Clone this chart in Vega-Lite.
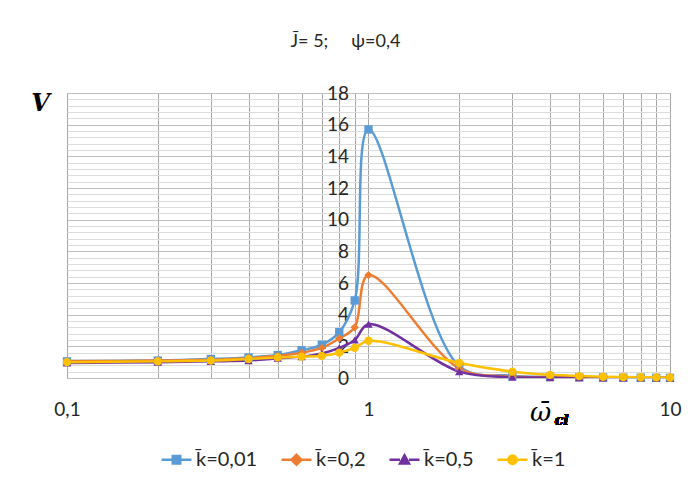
{
  "$schema": "https://vega.github.io/schema/vega-lite/v6.json",
  "width": 603,
  "height": 285,
  "autosize": {"type": "none"},
  "padding": {"left": 67, "top": 93, "right": 21, "bottom": 100},
  "background": "white",
  "config": {"view": {"stroke": "#bfbfbf", "strokeWidth": 1}, "font": "Lato"},
  "title": {"text": "J̄= 5;\u00a0\u00a0\u00a0\u00a0\u00a0ψ=0,4", "fontSize": 18, "fontWeight": "normal", "font": "Lato", "color": "#262626", "dx": -23, "offset": 33},
  "data": {"values": [
    {"w": 0.1, "k": "k̄=0,01", "v": 1.05}, {"w": 0.2, "k": "k̄=0,01", "v": 1.1}, {"w": 0.3, "k": "k̄=0,01", "v": 1.2}, {"w": 0.4, "k": "k̄=0,01", "v": 1.3}, {"w": 0.5, "k": "k̄=0,01", "v": 1.45}, {"w": 0.6, "k": "k̄=0,01", "v": 1.75}, {"w": 0.7, "k": "k̄=0,01", "v": 2.1}, {"w": 0.8, "k": "k̄=0,01", "v": 2.9}, {"w": 0.9, "k": "k̄=0,01", "v": 4.9}, {"w": 1, "k": "k̄=0,01", "v": 15.7}, {"w": 2, "k": "k̄=0,01", "v": 0.75}, {"w": 3, "k": "k̄=0,01", "v": 0.15}, {"w": 4, "k": "k̄=0,01", "v": 0.07}, {"w": 5, "k": "k̄=0,01", "v": 0.04}, {"w": 6, "k": "k̄=0,01", "v": 0.03}, {"w": 7, "k": "k̄=0,01", "v": 0.02}, {"w": 8, "k": "k̄=0,01", "v": 0.02}, {"w": 9, "k": "k̄=0,01", "v": 0.01}, {"w": 10, "k": "k̄=0,01", "v": 0.01},
    {"w": 0.1, "k": "k̄=0,2", "v": 1.05}, {"w": 0.2, "k": "k̄=0,2", "v": 1.1}, {"w": 0.3, "k": "k̄=0,2", "v": 1.15}, {"w": 0.4, "k": "k̄=0,2", "v": 1.25}, {"w": 0.5, "k": "k̄=0,2", "v": 1.4}, {"w": 0.6, "k": "k̄=0,2", "v": 1.6}, {"w": 0.7, "k": "k̄=0,2", "v": 1.9}, {"w": 0.8, "k": "k̄=0,2", "v": 2.5}, {"w": 0.9, "k": "k̄=0,2", "v": 3.2}, {"w": 1, "k": "k̄=0,2", "v": 6.5}, {"w": 2, "k": "k̄=0,2", "v": 0.6}, {"w": 3, "k": "k̄=0,2", "v": 0.1}, {"w": 4, "k": "k̄=0,2", "v": 0.05}, {"w": 5, "k": "k̄=0,2", "v": 0.03}, {"w": 6, "k": "k̄=0,2", "v": 0.02}, {"w": 7, "k": "k̄=0,2", "v": 0.02}, {"w": 8, "k": "k̄=0,2", "v": 0.01}, {"w": 9, "k": "k̄=0,2", "v": 0.01}, {"w": 10, "k": "k̄=0,2", "v": 0.01},
    {"w": 0.1, "k": "k̄=0,5", "v": 0.95}, {"w": 0.2, "k": "k̄=0,5", "v": 1.0}, {"w": 0.3, "k": "k̄=0,5", "v": 1.05}, {"w": 0.4, "k": "k̄=0,5", "v": 1.1}, {"w": 0.5, "k": "k̄=0,5", "v": 1.25}, {"w": 0.6, "k": "k̄=0,5", "v": 1.35}, {"w": 0.7, "k": "k̄=0,5", "v": 1.55}, {"w": 0.8, "k": "k̄=0,5", "v": 1.9}, {"w": 0.9, "k": "k̄=0,5", "v": 2.4}, {"w": 1, "k": "k̄=0,5", "v": 3.4}, {"w": 2, "k": "k̄=0,5", "v": 0.4}, {"w": 3, "k": "k̄=0,5", "v": 0.05}, {"w": 4, "k": "k̄=0,5", "v": 0.03}, {"w": 5, "k": "k̄=0,5", "v": 0.02}, {"w": 6, "k": "k̄=0,5", "v": 0.01}, {"w": 7, "k": "k̄=0,5", "v": 0.01}, {"w": 8, "k": "k̄=0,5", "v": 0.01}, {"w": 9, "k": "k̄=0,5", "v": 0.01}, {"w": 10, "k": "k̄=0,5", "v": 0.01},
    {"w": 0.1, "k": "k̄=1", "v": 1.0}, {"w": 0.2, "k": "k̄=1", "v": 1.05}, {"w": 0.3, "k": "k̄=1", "v": 1.1}, {"w": 0.4, "k": "k̄=1", "v": 1.2}, {"w": 0.5, "k": "k̄=1", "v": 1.3}, {"w": 0.6, "k": "k̄=1", "v": 1.35}, {"w": 0.7, "k": "k̄=1", "v": 1.4}, {"w": 0.8, "k": "k̄=1", "v": 1.6}, {"w": 0.9, "k": "k̄=1", "v": 1.9}, {"w": 1, "k": "k̄=1", "v": 2.35}, {"w": 2, "k": "k̄=1", "v": 0.95}, {"w": 3, "k": "k̄=1", "v": 0.4}, {"w": 4, "k": "k̄=1", "v": 0.2}, {"w": 5, "k": "k̄=1", "v": 0.12}, {"w": 6, "k": "k̄=1", "v": 0.08}, {"w": 7, "k": "k̄=1", "v": 0.06}, {"w": 8, "k": "k̄=1", "v": 0.05}, {"w": 9, "k": "k̄=1", "v": 0.04}, {"w": 10, "k": "k̄=1", "v": 0.03}
  ]},
  "encoding": {
    "x": {"field": "w", "type": "quantitative", "scale": {"type": "log", "domain": [0.1, 10]},
      "axis": {"values": [0.1, 0.2, 0.3, 0.4, 0.5, 0.6, 0.7, 0.8, 0.9, 1, 2, 3, 4, 5, 6, 7, 8, 9, 10],
        "grid": true, "gridColor": "#a6a6a6", "gridWidth": 1, "domain": false, "ticks": false,
        "labelExpr": "datum.value == 0.1 ? '0,1' : datum.value == 1 ? '1' : datum.value == 10 ? '10' : ''",
        "labelOverlap": false, "labelFlush": false, "labelBound": false, "labelPadding": 22,
        "labelFontSize": 19, "labelColor": "#262626", "labelFont": "Lato",
        "title": "ω̄", "titleX": 473, "titleY": 34, "titleAlign": "center", "titleBaseline": "middle",
        "titleFont": "DejaVu Serif", "titleFontStyle": "italic", "titleFontWeight": "normal", "titleFontSize": 26, "titleColor": "#000000"}}
  },
  "layer": [
    {
      "mark": {"type": "line", "interpolate": "catmull-rom", "strokeWidth": 2.5, "clip": true},
      "encoding": {
        "y": {"field": "v", "type": "quantitative", "scale": {"domain": [0, 18]},
          "axis": {"orient": "left", "values": [0, 0.4, 0.8, 1.2, 1.6, 2, 2.4, 2.8, 3.2, 3.6, 4, 4.4, 4.8, 5.2, 5.6, 6, 6.4, 6.8, 7.2, 7.6, 8, 8.4, 8.8, 9.2, 9.6, 10, 10.4, 10.8, 11.2, 11.6, 12, 12.4, 12.8, 13.2, 13.6, 14, 14.4, 14.8, 15.2, 15.6, 16, 16.4, 16.8, 17.2, 17.6, 18],
            "grid": true, "gridColor": {"condition": {"test": "datum.value % 2 === 0", "value": "#bfbfbf"}, "value": "#dcdcdc"},
            "labels": false, "ticks": false, "domain": false,
            "title": "V", "titleAngle": 0, "titleX": -27, "titleY": 10, "titleAlign": "center", "titleBaseline": "middle",
            "titleFont": "DejaVu Serif", "titleFontStyle": "italic", "titleFontWeight": "bold", "titleFontSize": 24, "titleColor": "#000000"}},
        "color": {"field": "k", "type": "nominal", "scale": {"domain": ["k̄=0,01", "k̄=0,2", "k̄=0,5", "k̄=1"], "range": ["#5b9bd5", "#ed7d31", "#7030a0", "#ffc000"]}, "legend": null}
      }
    },
    {
      "mark": {"type": "point", "filled": true, "opacity": 1, "size": 70},
      "encoding": {
        "y": {"field": "v", "type": "quantitative",
          "axis": {"orient": "left", "offset": -301.5, "values": [0, 2, 4, 6, 8, 10, 12, 14, 16, 18], "grid": false, "ticks": false, "domain": false,
            "labelPadding": 20, "labelFontSize": 19, "labelColor": "#262626", "labelFont": "Lato", "title": null}},
        "color": {"field": "k", "type": "nominal", "scale": {"domain": ["k̄=0,01", "k̄=0,2", "k̄=0,5", "k̄=1"], "range": ["#5b9bd5", "#ed7d31", "#7030a0", "#ffc000"]}, "legend": null},
        "shape": {"field": "k", "type": "nominal", "scale": {"domain": ["k̄=0,01", "k̄=0,2", "k̄=0,5", "k̄=1"], "range": ["square", "diamond", "triangle-up", "circle"]}, "legend": null}
      }
    },
    {
      "mark": {"type": "point", "filled": true, "size": 900, "clip": true, "strokeWidth": 2.5},
      "encoding": {
        "y": {"datum": -50, "axis": null},
        "color": {"field": "k", "type": "nominal", "scale": {"domain": ["k̄=0,01", "k̄=0,2", "k̄=0,5", "k̄=1"], "range": ["#5b9bd5", "#ed7d31", "#7030a0", "#ffc000"]},
          "legend": {"orient": "none", "legendX": 93, "legendY": 350, "direction": "horizontal", "columns": 4, "title": null,
            "labelFontSize": 20, "labelFont": "Lato", "labelColor": "#262626", "symbolSize": 900, "symbolStrokeWidth": 2.5, "columnPadding": 18, "labelOffset": 3, "symbolOpacity": 1}},
        "stroke": {"field": "k", "type": "nominal", "scale": {"domain": ["k̄=0,01", "k̄=0,2", "k̄=0,5", "k̄=1"], "range": ["#5b9bd5", "#ed7d31", "#7030a0", "#ffc000"]},
          "legend": {"orient": "none", "legendX": 93, "legendY": 350, "direction": "horizontal", "columns": 4, "title": null,
            "labelFontSize": 20, "labelFont": "Lato", "labelColor": "#262626", "symbolSize": 900, "symbolStrokeWidth": 2.5, "columnPadding": 18, "labelOffset": 3, "symbolOpacity": 1}},
        "shape": {"field": "k", "type": "nominal", "scale": {"domain": ["k̄=0,01", "k̄=0,2", "k̄=0,5", "k̄=1"],
          "range": ["M-1,0H-0.3M0.3,0H1M-0.25,-0.25H0.25V0.25H-0.25Z", "M-1,0H-0.35M0.35,0H1M0,-0.33L0.33,0L0,0.33L-0.33,0Z", "M-1,0H-0.3M0.3,0H1M0,-0.3L0.3,0.25H-0.3Z", "M-1,0H-0.28M0.28,0H1M-0.28,0A0.28,0.28 0 1,0 0.28,0A0.28,0.28 0 1,0 -0.28,0Z"]},
          "legend": {"orient": "none", "legendX": 93, "legendY": 350, "direction": "horizontal", "columns": 4, "title": null,
            "labelFontSize": 20, "labelFont": "Lato", "labelColor": "#262626", "symbolSize": 900, "symbolStrokeWidth": 2.5, "columnPadding": 18, "labelOffset": 3, "symbolOpacity": 1}}
      }
    },
    {
      "mark": {"type": "text", "clip": false, "font": "DejaVu Serif", "fontStyle": "italic", "fontWeight": "bold", "fontSize": 14, "color": "#000000", "align": "left", "baseline": "middle"},
      "encoding": {
        "x": {"datum": 4.15, "type": "quantitative"},
        "y": {"datum": -2.7, "type": "quantitative", "axis": null},
        "text": {"value": "cl"}
      }
    }
  ],
  "resolve": {"scale": {"color": "independent", "shape": "independent", "stroke": "independent"}, "axis": {"y": "independent"}}
}
